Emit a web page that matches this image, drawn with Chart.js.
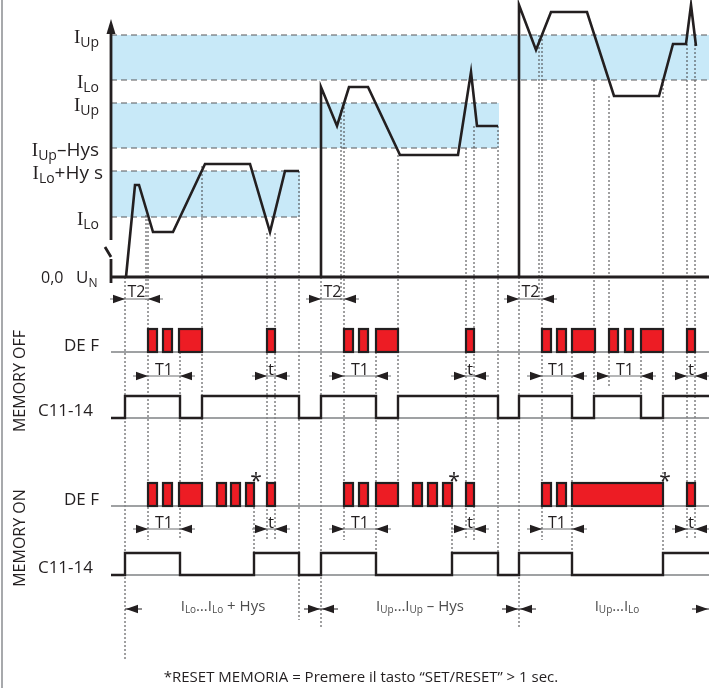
<!DOCTYPE html>
<html>
<head>
<meta charset="utf-8">
<script src="https://cdn.jsdelivr.net/npm/chart.js@4.4.1/dist/chart.umd.min.js"></script>
<style>
  html, body { margin: 0; padding: 0; background: #fff; }
</style>
</head>
<body>
<canvas id="timingChart" width="709" height="688"></canvas>
<script>
// time runs left to right, levels are read top-down off the picture
const X_MAX = 709, Y_MAX = 688;
const axisStart = 111;

// upper panel: thresholds and blue windows
const thresholdLevels = [35, 80, 103, 148, 171, 217];
const thresholdEnds   = [709, 709, 499, 499, 300, 300];
const bandTop    = [35, 103, 171];
const bandBottom = [80, 148, 217];
const bandEnd    = [709, 499, 300];
const zeroLevel = 277;

// measured current, three power-on cycles
const current1 = [[126,277],[135,185],[139,185],[153,232],[173,232],[205,164],[250,164],[270,232],[285,171],[299,171]];
const current2 = [[321,277],[321,87],[337,126],[349,87],[368,87],[400,155],[458,155],[471,72],[477,126],[498,126]];
const current3 = [[519,277],[519,5],[536,50],[551,12],[587,12],[614,96],[659,96],[673,44],[686,44],[691,5],[696,46]];

// DEF pulses [start, end]
const defOff = [[148,157],[163,172],[179,202],[267,275],[344,353],[359,368],[376,398],[466,474],[542,551],[557,566],[572,595],[609,618],[625,633],[641,663],[687,695]];
const defOn  = [[148,157],[163,172],[179,202],[217,226],[231,240],[246,254],[267,275],[344,353],[359,368],[376,398],[413,422],[428,437],[443,452],[466,474],[542,551],[557,566],[572,663],[687,695]];
const resetTimes = [254, 452, 663];

// relay C11-14 switching times (starts open)
const relayOffEdges = [125,180,202,299,321,376,398,498,519,572,594,641,663];
const relayOnEdges  = [125,180,254,299,321,376,452,498,519,572,663];

// timing spans
const t2Spans    = [[125,148],[321,344],[519,542]];
const t1SpansOff = [[148,180],[344,376],[542,572],[609,641]];
const t1SpansOn  = [[148,180],[344,376],[542,572]];
const tSpans     = [[267,275],[466,474],[687,695]];
const cycleSpans = [[125,321],[321,519],[519,709]];
const cycleLabels = [['I','Lo','…','I','Lo',' + Hys'], ['I','Up','…','I','Up',' – Hys'], ['I','Up','…','I','Lo','']];

// dotted guide lines [time, from level, to level]
const guides = [
  [125,277,660],[146,215,300],[148,215,540],[180,352,540],[202,166,483],[254,475,553],
  [267,233,540],[275,233,540],[299,171,620],[321,277,627],[341,110,300],[344,103,540],
  [376,352,553],[398,155,483],[452,475,553],[466,148,540],[474,126,540],[498,126,573],
  [519,277,627],[539,35,300],[542,35,540],[572,352,553],[594,80,420],[609,96,387],
  [641,352,396],[663,80,553],[687,44,540],[695,44,540]
];

// row levels of the lower panels
const rowT2 = 299;
const rowDefOff = 352, rowT1Off = 376, relayOffHi = 396, relayOffLo = 418;
const rowDefOn = 506, rowT1On = 529, relayOnHi = 553, relayOnLo = 575;
const rowCycle = 609;
const pulseHeight = 23;

const SANS = '"Open Sans", sans-serif';
const SERIF = '"Liberation Serif", serif';
const INK = '#231f20';

const pts = arr => arr.map(p => ({x: p[0], y: p[1]}));

function relayPoints(edges, hi, lo) {
  const out = [{x: axisStart, y: lo}];
  let level = lo;
  edges.forEach(e => {
    out.push({x: e, y: level});
    level = level === lo ? hi : lo;
    out.push({x: e, y: level});
  });
  out.push({x: X_MAX, y: level});
  return out;
}

function segments(list) {
  const out = [];
  list.forEach(s => {
    out.push(...s);
    out.push({x: s[s.length - 1].x + 0.01, y: null});
  });
  return out;
}

const guideData = segments(guides.map(g => [{x: g[0], y: g[1]}, {x: g[0], y: g[2]}]));
const thresholdData = segments(thresholdLevels.map((lv, i) => [{x: axisStart, y: lv}, {x: thresholdEnds[i], y: lv}]));
const rowBaseData = segments([rowDefOff, relayOffLo, rowDefOn, relayOnLo].map(lv => [{x: axisStart, y: lv}, {x: X_MAX, y: lv}]));
const axisData = segments([
  [{x: axisStart, y: 30}, {x: axisStart, y: 240}],
  [{x: axisStart - 6, y: 247}, {x: axisStart, y: 257}],
  [{x: axisStart, y: 259}, {x: axisStart, y: 283}],
  [{x: axisStart, y: zeroLevel}, {x: X_MAX, y: zeroLevel}]
]);

function line(data, color, width, dash) {
  return {data, borderColor: color, borderWidth: width, borderDash: dash || [], pointRadius: 0,
          fill: false, tension: 0, showLine: true, spanGaps: false};
}

function drawParts(ctx, parts, px, py, align) {
  let w = 0;
  parts.forEach(p => { ctx.font = p.f; w += ctx.measureText(p.t).width; });
  let cx = align === 'right' ? px - w : align === 'center' ? px - w / 2 : px;
  parts.forEach(p => {
    ctx.font = p.f;
    ctx.fillText(p.t, cx, py + (p.dy || 0));
    cx += ctx.measureText(p.t).width;
  });
}

function levelLabel(main, sub, rest, size) {
  const parts = [{t: main, f: `${size}px ${SERIF}`}, {t: sub, f: `${Math.round(size * 0.72)}px ${SANS}`, dy: 4}];
  if (rest) parts.push({t: rest, f: `${size}px ${SANS}`});
  return parts;
}

const timingPlugin = {
  id: 'timing',
  beforeDatasetsDraw(chart) {
    const {ctx, scales: {x, y}} = chart;
    ctx.save();
    ctx.fillStyle = '#c8e9f8';
    bandTop.forEach((top, i) => {
      const x0 = x.getPixelForValue(axisStart + 1), x1 = x.getPixelForValue(bandEnd[i]);
      const y0 = y.getPixelForValue(top), y1 = y.getPixelForValue(bandBottom[i]);
      ctx.fillRect(x0, y0, x1 - x0, y1 - y0);
    });
    ctx.restore();
  },
  afterDatasetsDraw(chart) {
    const {ctx, scales: {x, y}} = chart;
    const X = v => x.getPixelForValue(v), Y = v => y.getPixelForValue(v);
    ctx.save();

    // axis arrow head
    ctx.fillStyle = INK;
    ctx.beginPath();
    ctx.moveTo(X(axisStart), Y(19));
    ctx.lineTo(X(axisStart) - 4.5, Y(34));
    ctx.lineTo(X(axisStart) + 4.5, Y(34));
    ctx.closePath();
    ctx.fill();

    // DEF pulses
    ctx.fillStyle = '#ed1c24';
    ctx.strokeStyle = INK;
    ctx.lineWidth = 2.2;
    [[defOff, rowDefOff], [defOn, rowDefOn]].forEach(([list, row]) => {
      list.forEach(([a, b]) => {
        const x0 = X(a), x1 = X(b), y0 = Y(row - pulseHeight), y1 = Y(row);
        ctx.fillRect(x0, y0, x1 - x0, y1 - y0);
        ctx.strokeRect(x0, y0, x1 - x0, y1 - y0);
      });
    });

    function head(tip, row, dir) {
      const px = X(tip), py = Y(row);
      ctx.beginPath();
      ctx.moveTo(px, py);
      ctx.lineTo(px - dir * 12, py - 4.2);
      ctx.lineTo(px - dir * 12, py + 4.2);
      ctx.closePath();
      ctx.fill();
    }
    function inward(a, b, row) {
      ctx.strokeStyle = '#6d6e71';
      ctx.lineWidth = 1;
      ctx.beginPath();
      ctx.moveTo(X(a - 15), Y(row));
      ctx.lineTo(X(b + 15), Y(row));
      ctx.stroke();
      ctx.fillStyle = INK;
      head(a, row, 1);
      head(b, row, -1);
    }

    ctx.fillStyle = INK;
    ctx.textBaseline = 'alphabetic';
    ctx.textAlign = 'left';

    t2Spans.forEach(([a, b]) => {
      inward(a, b, rowT2);
      drawParts(ctx, [{t: 'T2', f: `16px ${SANS}`}], X((a + b) / 2), Y(rowT2 - 2), 'center');
    });
    [[t1SpansOff, rowT1Off], [t1SpansOn, rowT1On]].forEach(([list, row]) => {
      list.forEach(([a, b]) => {
        inward(a, b, row);
        drawParts(ctx, [{t: 'T1', f: `16px ${SANS}`}], X((a + b) / 2), Y(row - 1), 'center');
      });
      tSpans.forEach(([a, b]) => {
        inward(a, b, row);
        drawParts(ctx, [{t: 't', f: `17px ${SANS}`}], X((a + b) / 2), Y(row - 1), 'center');
      });
    });

    // reset markers
    resetTimes.forEach(tm => {
      drawParts(ctx, [{t: '*', f: `21px ${SANS}`}], X(tm + 2), Y(rowDefOn - pulseHeight + 5), 'center');
    });

    // cycle ranges
    ctx.strokeStyle = INK;
    ctx.lineWidth = 1;
    cycleSpans.forEach(([a, b], i) => {
      ctx.beginPath();
      ctx.moveTo(X(a), Y(rowCycle)); ctx.lineTo(X(a + 17), Y(rowCycle));
      ctx.moveTo(X(b - 17), Y(rowCycle)); ctx.lineTo(X(b), Y(rowCycle));
      ctx.stroke();
      head(a + 1, rowCycle, -1);
      head(b - 1, rowCycle, 1);
      const L = cycleLabels[i];
      ctx.fillStyle = '#4d4d4d';
      const parts = [
        {t: L[0], f: `15px ${SANS}`}, {t: L[1], f: `10px ${SANS}`, dy: 2},
        {t: L[2], f: `15px ${SANS}`},
        {t: L[3], f: `15px ${SANS}`}, {t: L[4], f: `10px ${SANS}`, dy: 2},
        {t: L[5], f: `15px ${SANS}`}
      ];
      const cx = i === 2 ? 617 : (a + b) / 2;
      drawParts(ctx, parts, X(cx), Y(rowCycle + 2), 'center');
      ctx.fillStyle = INK;
    });

    // threshold labels
    ctx.fillStyle = INK;
    drawParts(ctx, levelLabel('I', 'Up', '', 19), X(99), Y(43), 'right');
    drawParts(ctx, levelLabel('I', 'Lo', '', 19), X(99), Y(88), 'right');
    drawParts(ctx, levelLabel('I', 'Up', '', 19), X(99), Y(111), 'right');
    drawParts(ctx, levelLabel('I', 'Up', '–Hys', 19), X(99), Y(156), 'right');
    drawParts(ctx, levelLabel('I', 'Lo', '+Hy s', 19), X(103), Y(179), 'right');
    drawParts(ctx, levelLabel('I', 'Lo', '', 19), X(99), Y(225), 'right');
    drawParts(ctx, [{t: '0,0', f: `16px ${SANS}`}], X(41), Y(283), 'left');
    drawParts(ctx, [{t: 'U', f: `17px ${SANS}`}, {t: 'N', f: `12px ${SANS}`, dy: 4}], X(76), Y(283), 'left');

    // row labels
    drawParts(ctx, [{t: 'DE F', f: `17px ${SANS}`}], X(99), Y(rowDefOff - 1), 'right');
    drawParts(ctx, [{t: 'DE F', f: `17px ${SANS}`}], X(99), Y(rowDefOn - 1), 'right');
    drawParts(ctx, [{t: 'C11-14', f: `17px ${SANS}`}], X(93), Y(relayOffLo - 2), 'right');
    drawParts(ctx, [{t: 'C11-14', f: `17px ${SANS}`}], X(93), Y(relayOnLo - 2), 'right');

    [['MEMORY OFF', 381], ['MEMORY ON', 538]].forEach(([txt, cy]) => {
      ctx.save();
      ctx.translate(X(25), Y(cy));
      ctx.rotate(-Math.PI / 2);
      ctx.font = `16px ${SANS}`;
      ctx.textAlign = 'center';
      ctx.fillText(txt, 0, 0);
      ctx.restore();
    });

    // footnote
    ctx.font = `15px ${SANS}`;
    ctx.textAlign = 'center';
    ctx.fillText('*RESET MEMORIA = Premere il tasto \u201CSET/RESET\u201D > 1 sec.', X(361), Y(682));
    ctx.restore();
  }
};

new Chart(document.getElementById('timingChart'), {
  type: 'line',
  data: {
    datasets: [
      line(pts(current1), INK, 2.6),
      line(pts(current2), INK, 2.6),
      line(pts(current3), INK, 2.6),
      line(relayPoints(relayOffEdges, relayOffHi, relayOffLo), INK, 2.4),
      line(relayPoints(relayOnEdges, relayOnHi, relayOnLo), INK, 2.4),
      line(axisData, INK, 2.8),
      line(thresholdData, '#58595b', 1.2, [6, 4]),
      line(rowBaseData, '#808285', 1.3),
      line(guideData, '#414042', 1, [2, 2]),
      line([{x: 2, y: 0}, {x: 2, y: Y_MAX}], '#a7a9ac', 2)
    ]
  },
  options: {
    responsive: false,
    animation: false,
    events: [],
    layout: {padding: 0},
    plugins: {legend: {display: false}, tooltip: {enabled: false}},
    scales: {
      x: {type: 'linear', min: 0, max: X_MAX, display: false},
      y: {type: 'linear', min: 0, max: Y_MAX, reverse: true, display: false}
    }
  },
  plugins: [timingPlugin]
});
</script>
</body>
</html>
